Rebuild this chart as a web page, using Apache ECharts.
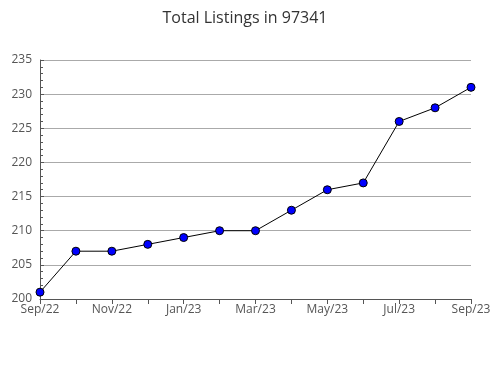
<!DOCTYPE html>
<html><head><meta charset="utf-8">
<script src="https://cdn.jsdelivr.net/npm/echarts@6/dist/echarts.min.js"></script>
<style>html,body{margin:0;padding:0;background:#fff}#c{width:490px;height:380px}</style>
</head><body><div id="c"></div>
<script>
const titleText = "Total Listings in 97341";
const months = ["Sep/22","Oct/22","Nov/22","Dec/22","Jan/23","Feb/23","Mar/23","Apr/23","May/23","Jun/23","Jul/23","Aug/23","Sep/23"];
const listings = [201,207,207,208,209,210,210,213,216,217,226,228,231];
const yMin = 200, yMax = 235, yStep = 5;

const chart = echarts.init(document.getElementById('c'), null, {renderer:'canvas'});
chart.setOption({
  animation:false,
  title:{text:titleText,left:'center',top:5,textStyle:{fontFamily:'Open Sans',fontWeight:'normal',fontSize:16,color:'#333'}},
  grid:{left:40,right:19,top:60,bottom:81,containLabel:false,outerBoundsMode:'none'},
  xAxis:{type:'category',data:months,boundaryGap:false,
    axisLine:{lineStyle:{color:'#555',width:1}},
    axisTick:{show:true,interval:0,length:5,lineStyle:{color:'#555'}},
    axisLabel:{interval:1,color:'#555',fontFamily:'Open Sans',fontSize:12,margin:5},
    splitLine:{show:false}},
  yAxis:{type:'value',min:yMin,max:yMax,interval:yStep,
    axisLine:{show:true,lineStyle:{color:'#555'}},
    axisTick:{show:true,inside:true,length:4,lineStyle:{color:'#555'}},
    minorTick:{show:true,splitNumber:5,length:3,lineStyle:{color:'#555'}},
    axisLabel:{color:'#555',fontFamily:'Open Sans',fontSize:12,margin:8},
    splitLine:{show:true,lineStyle:{color:'#aaa',width:1}}},
  series:[{type:'line',data:listings,symbol:'circle',symbolSize:8,
    lineStyle:{color:'#000',width:1},
    itemStyle:{color:'#0000ff',borderColor:'#000',borderWidth:1}}]
});
</script></body></html>
